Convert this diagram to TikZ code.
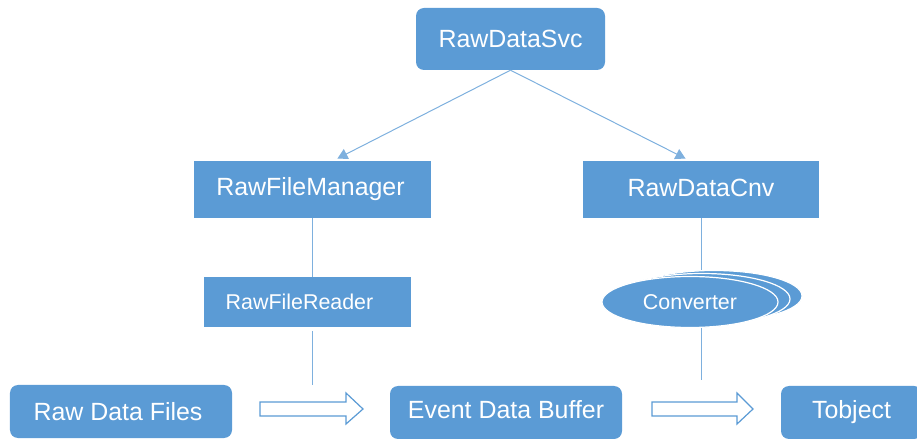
\documentclass[tikz,border=0pt]{standalone}
\usepackage{fontspec}
\setmainfont{Liberation Sans}
\usetikzlibrary{shapes.geometric,arrows.meta,calc}
\definecolor{boxblue}{HTML}{5B9BD5}
\definecolor{linkblue}{HTML}{7EB0DE}
\tikzset{
  box/.style={fill=boxblue, draw=none, text=white, inner sep=0pt, font=\fontsize{25}{29}\selectfont},
  rbox/.style={box, rounded corners=8bp},
  smallbox/.style={box, font=\fontsize{21.5}{25}\selectfont},
  link/.style={draw=linkblue, line width=1bp},
  tiplink/.style={link, -{Triangle[length=10bp,width=11bp]}},
  blockarrow/.style={draw=boxblue, fill=white, line width=1.2bp},
  layer/.style={fill=boxblue, draw=white, line width=1.2bp},
}
\begin{document}
\begin{tikzpicture}[x=1bp,y=-1bp]
\useasboundingbox (0,0) rectangle (917,439);

% service and its two helpers
\node[rbox, minimum width=189bp, minimum height=62bp] (svc) at (510.5,39) {RawDataSvc};
\node[box, minimum width=237bp, minimum height=57bp] (mgr) at (312.5,189.5) {RawFileManager\hspace*{4bp}};
\node[box, minimum width=236bp, minimum height=57bp] (cnv) at (701,189.5) {RawDataCnv\raisebox{0pt}[0pt][4bp]{}};
\node[smallbox, minimum width=207bp, minimum height=50bp] (reader) at (307.5,302) {RawFileReader\hspace*{16bp}};

% stacked converter ellipses
\draw[layer] (714,296) ellipse [x radius=88, y radius=25.5];
\draw[layer] (702,299) ellipse [x radius=88, y radius=25.5];
\node[ellipse, fill=boxblue, draw=white, line width=1.2bp, text=white, inner sep=0pt,
      minimum width=176bp, minimum height=51bp, font=\fontsize{21.5}{25}\selectfont] (conv) at (690,302) {Converter};

% data flow row
\node[rbox, minimum width=222bp, minimum height=53bp] (files) at (121,411.5) {Raw Data Files\hspace*{6bp}};
\node[rbox, minimum width=232bp, minimum height=53bp] (buffer) at (506,412.5) {Event Data Buffer\raisebox{0pt}[0pt][6bp]{}};
\node[rbox, minimum width=141bp, minimum height=53bp] (tobj) at (851.5,412.5) {Tobject};

% connectors
\draw[tiplink, shorten >=5bp] (svc.south) -- ($(mgr.north)+(20.5,0)$);
\draw[tiplink, shorten >=5bp] (svc.south) -- ($(cnv.north)+(-11,0)$);
\draw[link] (mgr.south) -- (mgr.south |- reader.north);
\coordinate (readerEnd) at (312.5,385);
\draw[link] (312.5,331) -- (readerEnd);
\draw[link] (cnv.south) -- (701,270);
\coordinate (convEnd) at (701,380);
\draw[link] (701,328) -- (convEnd);

% hollow block arrows
\draw[blockarrow] (260,402) -- (346,402) -- (346,393) -- (363,409) -- (346,424) -- (346,416) -- (260,416) -- cycle;
\draw[blockarrow] (652,402) -- (737,402) -- (737,393) -- (753,409) -- (737,424) -- (737,416) -- (652,416) -- cycle;
\end{tikzpicture}
\end{document}
